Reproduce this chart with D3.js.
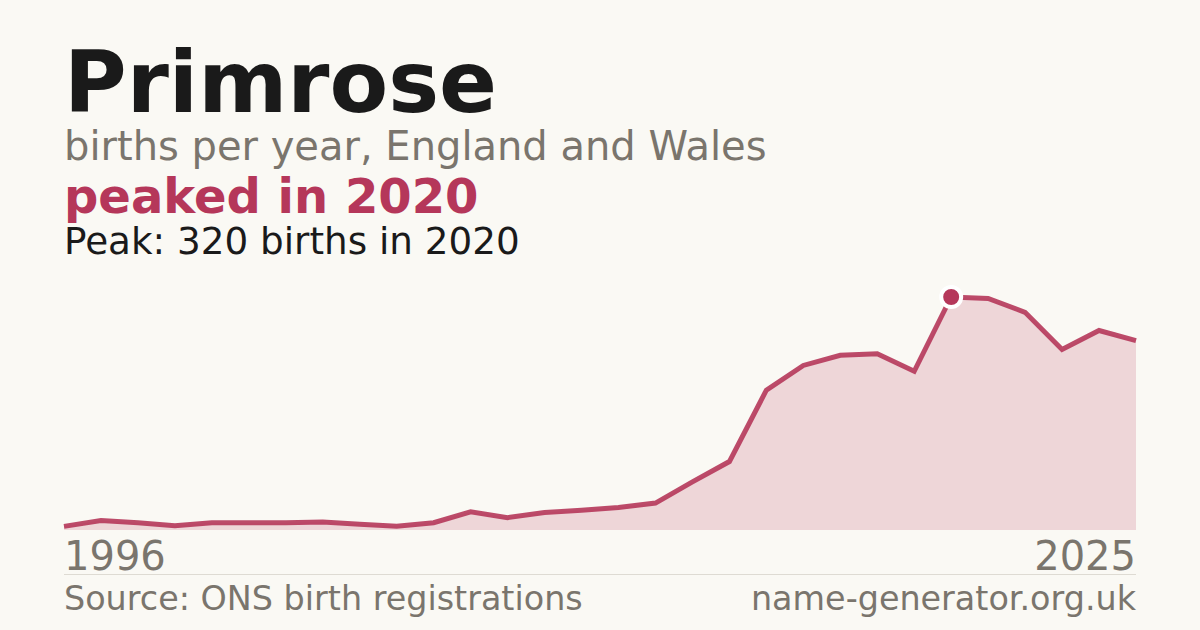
<!DOCTYPE html>
<html>
<head>
<meta charset="utf-8">
<script src="https://cdn.jsdelivr.net/npm/d3@7"></script>
<style>
	html, body { margin: 0; padding: 0; background: #faf9f4; }
	svg { display: block; }
	text { font-family: "DejaVu Sans", sans-serif; }
</style>
</head>
<body>
<svg id="chart"></svg>
<script>
// Births per year, 1996 - 2025
const years = d3.range(1996, 2026);
const births = [5, 13, 10, 6, 10, 10, 10, 11, 8, 5,
	10, 25, 17, 24, 27, 31, 37, 66, 94, 192,
	226, 240, 242, 218, 320, 318, 299, 248, 274, 260];
const axisLabels = ["1996", "2025"];

const name = "Primrose";
const subtitle = "births per year, England and Wales";
const headline = "peaked in 2020";
const peakNote = "Peak: 320 births in 2020";
const source = "Source: ONS birth registrations";
const site = "name-generator.org.uk";

const width = 1200;
const height = 630;
const left = 64;
const right = 1136;
const accent = "#b5375a";
const grey = "#7a756d";

const data = years.map((y, i) => ({ year: y, value: births[i] }));

const svg = d3.select("#chart")
	.attr("width", width)
	.attr("height", height);

svg.append("rect")
	.attr("width", width)
	.attr("height", height)
	.attr("fill", "#faf9f4");

// Scales
const x = d3.scaleLinear()
	.domain(d3.extent(years))
	.range([left, right]);

const y = d3.scaleLinear()
	.domain([0, d3.max(births)])
	.range([530, 297]);

// Area + line
const area = d3.area()
	.x((d) => x(d.year))
	.y0(y(0))
	.y1((d) => y(d.value));

const line = d3.line()
	.x((d) => x(d.year))
	.y((d) => y(d.value));

svg.append("path")
	.datum(data)
	.attr("d", area)
	.attr("fill", accent)
	.attr("fill-opacity", 0.18);

svg.append("path")
	.datum(data)
	.attr("d", line)
	.attr("fill", "none")
	.attr("stroke", accent)
	.attr("stroke-width", 5)
	.attr("stroke-opacity", 0.9);

// Peak marker
const peak = data.reduce((a, b) => (b.value > a.value ? b : a));
svg.append("circle")
	.attr("cx", x(peak.year))
	.attr("cy", y(peak.value))
	.attr("r", 10)
	.attr("fill", accent)
	.attr("stroke", "#fff")
	.attr("stroke-width", 4);

// Titles
svg.append("text")
	.attr("x", left)
	.attr("y", 112)
	.attr("font-size", 85.5)
	.attr("font-weight", "bold")
	.attr("fill", "#1a1a1a")
	.text(name);

svg.append("text")
	.attr("x", left)
	.attr("y", 160)
	.attr("font-size", 40)
	.attr("fill", grey)
	.text(subtitle);

svg.append("text")
	.attr("x", left)
	.attr("y", 213)
	.attr("font-size", 48)
	.attr("font-weight", "bold")
	.attr("fill", accent)
	.text(headline);

svg.append("text")
	.attr("x", left)
	.attr("y", 254)
	.attr("font-size", 37.3)
	.attr("fill", "#1a1a1a")
	.text(peakNote);

// Year labels
svg.append("text")
	.attr("x", x(years[0]))
	.attr("y", 570)
	.attr("font-size", 40)
	.attr("fill", grey)
	.text(axisLabels[0]);

svg.append("text")
	.attr("x", x(years[years.length - 1]))
	.attr("y", 570)
	.attr("font-size", 40)
	.attr("text-anchor", "end")
	.attr("fill", grey)
	.text(axisLabels[1]);

svg.append("line")
	.attr("x1", left)
	.attr("x2", right)
	.attr("y1", 574.5)
	.attr("y2", 574.5)
	.attr("stroke", "#dedbd3")
	.attr("stroke-width", 1);

// Footer
svg.append("text")
	.attr("x", left)
	.attr("y", 610)
	.attr("font-size", 33.4)
	.attr("fill", grey)
	.text(source);

svg.append("text")
	.attr("x", right)
	.attr("y", 610)
	.attr("font-size", 33.4)
	.attr("text-anchor", "end")
	.attr("fill", grey)
	.text(site);
</script>
</body>
</html>
